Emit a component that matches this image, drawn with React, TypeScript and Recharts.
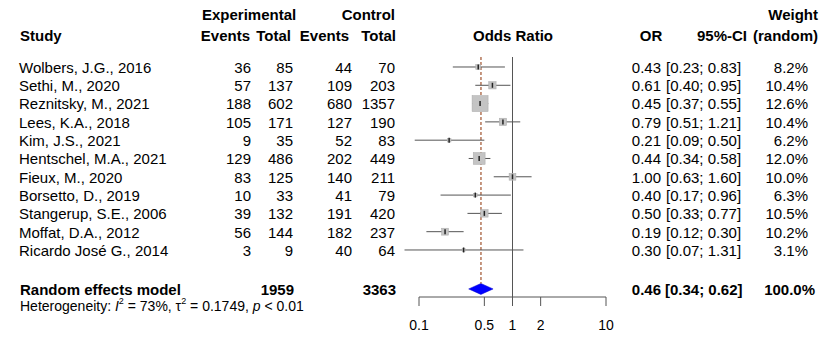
import React from "react";
import { ScatterChart, Scatter, XAxis, YAxis, ReferenceLine, ReferenceArea } from "recharts";

const studies = [
  "Wolbers, J.G., 2016",
  "Sethi, M., 2020",
  "Reznitsky, M., 2021",
  "Lees, K.A., 2018",
  "Kim, J.S., 2021",
  "Hentschel, M.A., 2021",
  "Fieux, M., 2020",
  "Borsetto, D., 2019",
  "Stangerup, S.E., 2006",
  "Moffat, D.A., 2012",
  "Ricardo José G., 2014",
];
const expEvents = [36, 57, 188, 105, 9, 129, 83, 10, 39, 56, 3];
const expTotal = [85, 137, 602, 171, 35, 486, 125, 33, 132, 144, 9];
const ctrlEvents = [44, 109, 680, 127, 52, 202, 140, 41, 191, 182, 40];
const ctrlTotal = [70, 203, 1357, 190, 83, 449, 211, 79, 420, 237, 64];
const oddsRatio = [0.43, 0.61, 0.45, 0.79, 0.21, 0.44, 1.0, 0.4, 0.5, 0.19, 0.3];
const ciLow = [0.23, 0.4, 0.37, 0.51, 0.09, 0.34, 0.63, 0.17, 0.33, 0.12, 0.07];
const ciHigh = [0.83, 0.95, 0.55, 1.21, 0.5, 0.58, 1.6, 0.96, 0.77, 0.3, 1.31];
const weightRandom = [8.2, 10.4, 12.6, 10.4, 6.2, 12.0, 10.0, 6.3, 10.5, 10.2, 3.1];

const pooledOR = 0.46;
const pooledLow = 0.34;
const pooledHigh = 0.62;
const pooledExpTotal = 1959;
const pooledCtrlTotal = 3363;
const xTicks = [0.1, 0.5, 1, 2, 10];

const W = 819;
const H = 338;
const ROW0 = 67;
const ROWH = 18.35;
const SUMMARY_ROW = 12.13;
const FONT = "'Liberation Sans', Arial, sans-serif";

// box size follows inverse-variance weight taken from the CI width
const ivw = ciLow.map((lo, i) => {
  const se = (Math.log(ciHigh[i]) - Math.log(lo)) / 3.92;
  return 1 / (se * se);
});
const maxIvw = Math.max(...ivw);

const points = studies.map((s, i) => ({ x: oddsRatio[i], y: i, w: ivw[i] }));

const rowY = (i: number) => ROW0 + ROWH * i;

const StudyBox = (props: any) => {
  const { cx, cy, payload } = props;
  const s = Math.max(3, 16 * Math.sqrt(payload.w / maxIvw));
  return (
    <g>
      <rect x={cx - s / 2} y={cy - s / 2} width={s} height={s} fill="#c4c4c4" stroke="#aaa" strokeWidth={0.5} />
      <line x1={cx} x2={cx} y1={cy - 2.5} y2={cy + 2.5} stroke="#222" strokeWidth={1.5} />
    </g>
  );
};

const Diamond = (props: any) => {
  const { x, y, width, height } = props;
  const mx = x + width / 2;
  const my = y + height / 2;
  return (
    <polygon
      points={`${x},${my} ${mx},${y} ${x + width},${my} ${mx},${y + height}`}
      fill="#0000ff"
      stroke="#0000cc"
      strokeWidth={0.5}
    />
  );
};

function Table() {
  const t = (x: number, y: number, s: string | number, anchor = "start", bold = false) => (
    <text
      x={x}
      y={y}
      textAnchor={anchor as any}
      dominantBaseline="central"
      fontWeight={bold ? "bold" : "normal"}
    >
      {s}
    </text>
  );
  return (
    <svg
      width={W}
      height={H}
      style={{ position: "absolute", left: 0, top: 0, pointerEvents: "none" }}
      fontFamily={FONT}
      fontSize={15}
      fill="#000"
    >
      {t(202, 14, "Experimental", "start", true)}
      {t(395, 14, "Control", "end", true)}
      {t(818, 14, "Weight", "end", true)}
      {t(20, 35, "Study", "start", true)}
      {t(250, 35, "Events", "end", true)}
      {t(291, 35, "Total", "end", true)}
      {t(349, 35, "Events", "end", true)}
      {t(396, 35, "Total", "end", true)}
      {t(513, 35, "Odds Ratio", "middle", true)}
      {t(651, 35, "OR", "middle", true)}
      {t(747, 35, "95%-CI", "end", true)}
      {t(818, 35, "(random)", "end", true)}
      {studies.map((s, i) => (
        <g key={s}>
          {t(19, rowY(i), s)}
          {t(251, rowY(i), expEvents[i], "end")}
          {t(293, rowY(i), expTotal[i], "end")}
          {t(352, rowY(i), ctrlEvents[i], "end")}
          {t(395, rowY(i), ctrlTotal[i], "end")}
          {t(661, rowY(i), oddsRatio[i].toFixed(2), "end")}
          {t(666, rowY(i), `[${ciLow[i].toFixed(2)}; ${ciHigh[i].toFixed(2)}]`)}
          {t(808, rowY(i), `${weightRandom[i].toFixed(1)}%`, "end")}
        </g>
      ))}
      {t(20, 289, "Random effects model", "start", true)}
      {t(294, 289, pooledExpTotal, "end", true)}
      {t(396, 289, pooledCtrlTotal, "end", true)}
      {t(661, 289, pooledOR.toFixed(2), "end", true)}
      {t(665, 289, `[${pooledLow.toFixed(2)}; ${pooledHigh.toFixed(2)}]`, "start", true)}
      {t(815, 289, "100.0%", "end", true)}
      <text x={20} y={306} fontSize={14} dominantBaseline="central">
        Heterogeneity: <tspan fontStyle="italic">I</tspan>
        <tspan dy={-5} fontSize={9}>2</tspan>
        <tspan dy={5}> = 73%, τ</tspan>
        <tspan dy={-5} fontSize={9}>2</tspan>
        <tspan dy={5}> = 0.1749, </tspan>
        <tspan fontStyle="italic">p</tspan> &lt; 0.01
      </text>
    </svg>
  );
}

export default function App() {
  return (
    <div style={{ position: "absolute", left: 0, top: 0, width: W, height: H, background: "#fff" }}>
      <ScatterChart width={W} height={H} margin={{ top: 57, right: 213, bottom: 6, left: 419 }}>
        <XAxis
          type="number"
          dataKey="x"
          scale="log"
          domain={[0.1, 10]}
          ticks={xTicks}
          tickFormatter={(v: number) => String(v)}
          height={35}
          tickSize={9}
          tickMargin={14}
          stroke="#555"
          tick={{ fill: "#000", fontSize: 14, fontFamily: FONT }}
          allowDataOverflow
        />
        <YAxis type="number" dataKey="y" domain={[-0.546, 12.57]} reversed hide allowDataOverflow />
        <ReferenceLine x={1} stroke="#555" strokeWidth={1} />
        <ReferenceLine
          segment={[{ x: pooledOR, y: -0.546 }, { x: pooledOR, y: SUMMARY_ROW - 0.3 }]}
          stroke="#a0522d"
          strokeDasharray="3 2"
          strokeWidth={1.2}
          ifOverflow="visible"
        />
        {studies.map((s, i) => (
          <ReferenceLine
            key={s}
            segment={[{ x: ciLow[i], y: i }, { x: ciHigh[i], y: i }]}
            stroke="#555"
            strokeWidth={1}
            ifOverflow="visible"
          />
        ))}
        <Scatter data={points} shape={<StudyBox />} isAnimationActive={false} />
        <ReferenceArea
          x1={pooledLow}
          x2={pooledHigh}
          y1={SUMMARY_ROW - 0.3}
          y2={SUMMARY_ROW + 0.3}
          shape={<Diamond />}
          ifOverflow="visible"
        />
      </ScatterChart>
      <Table />
    </div>
  );
}
